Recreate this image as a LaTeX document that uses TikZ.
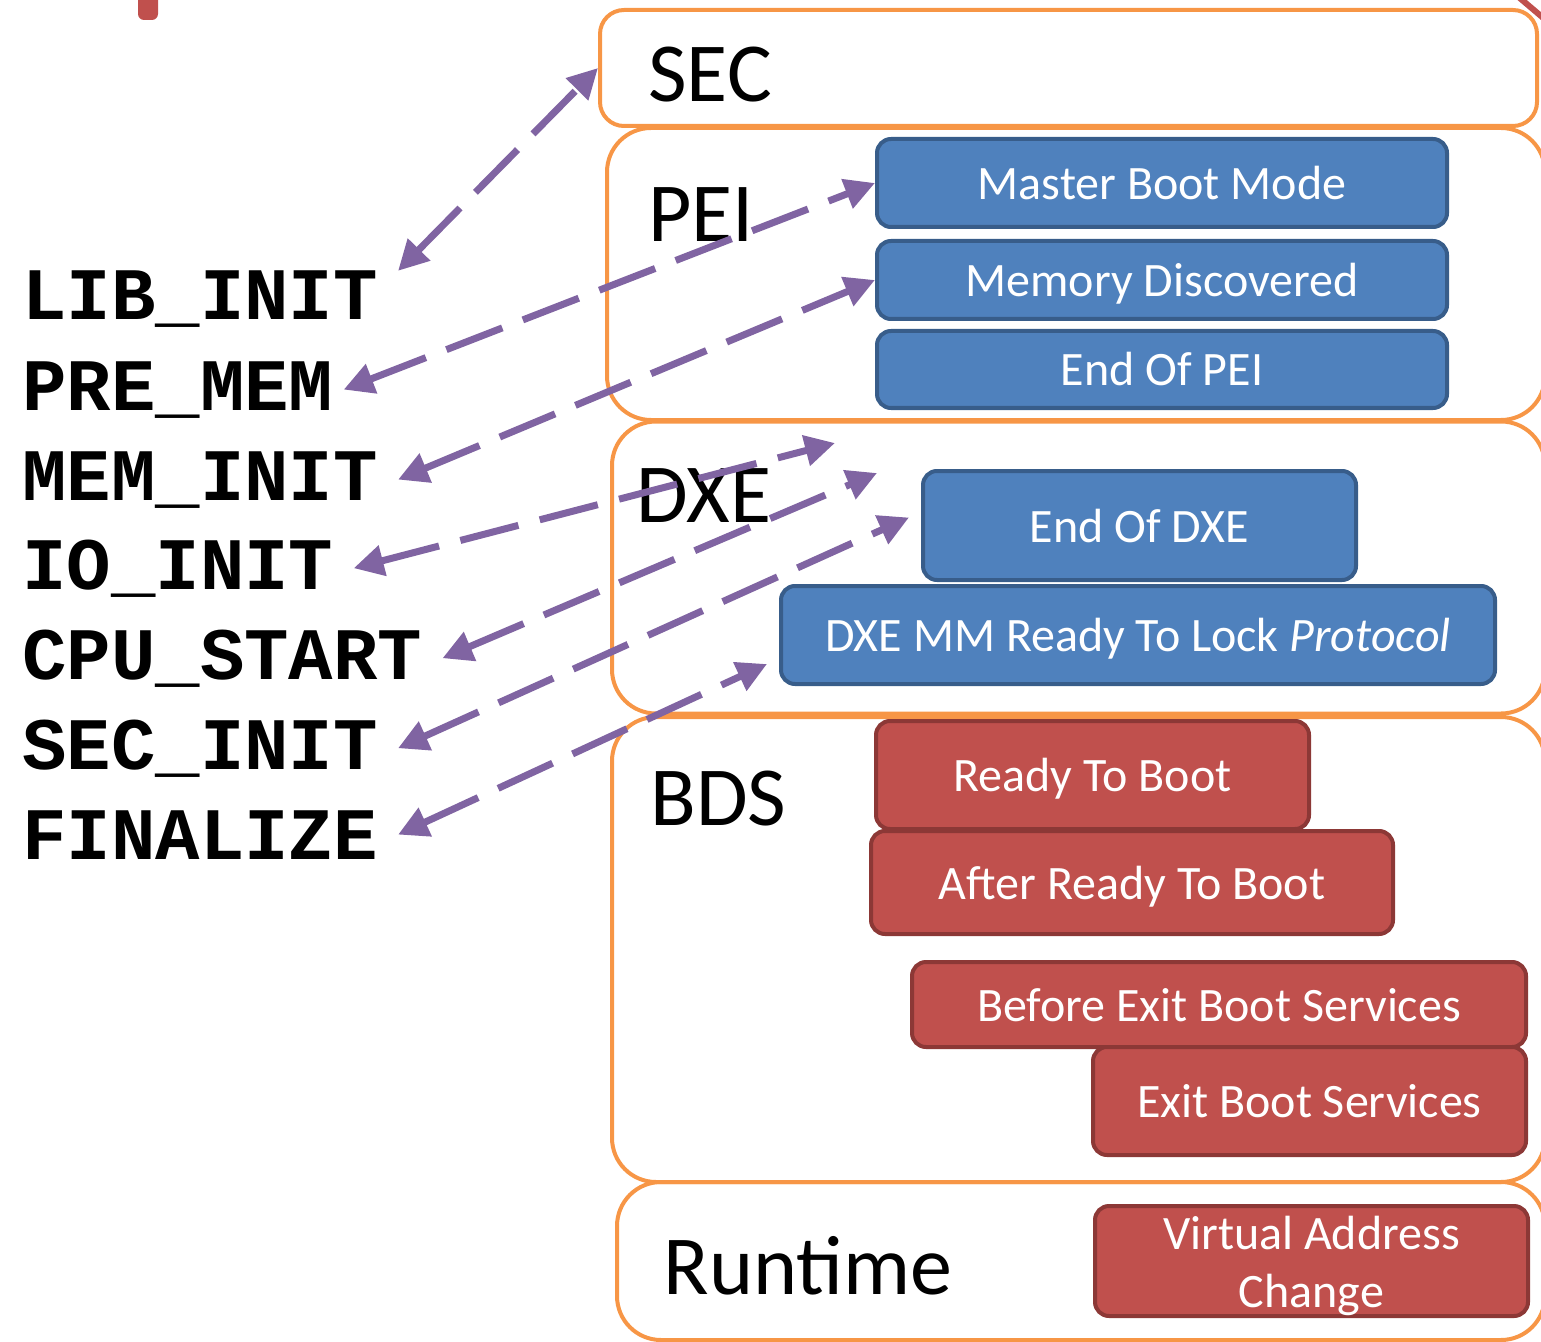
\documentclass[tikz,border=0pt]{standalone}
\usepackage{fontspec}
\setmainfont{Carlito}
\newfontfamily\codefont{Liberation Mono}
\usetikzlibrary{arrows.meta}

\definecolor{phaseorange}{HTML}{F79646}
\definecolor{eventblue}{HTML}{4F81BD}
\definecolor{eventblueline}{HTML}{385D8A}
\definecolor{eventred}{HTML}{C0504D}
\definecolor{eventredline}{HTML}{8C3836}
\definecolor{linkpurple}{HTML}{8064A2}

\tikzset{
  phasebox/.style={draw=phaseorange, line width=2pt, rounded corners=22pt, inner sep=0pt},
  phasename/.style={anchor=base west, inner sep=0pt, font=\fontsize{42}{42}\selectfont},
  bluebox/.style={draw=eventblueline, fill=eventblue, line width=2pt, rounded corners=7pt,
    text=white, font=\fontsize{24}{29}\selectfont, align=center,
    text height=17pt, text depth=0.5pt},
  redbox/.style={bluebox, draw=eventredline, fill=eventred},
  stage/.style={anchor=base west, inner xsep=10pt, inner ysep=0pt,
    font=\codefont\bfseries\fontsize{37}{37}\selectfont},
  link/.style={draw=linkpurple, line width=3.5pt, dash pattern=on 30pt off 11pt,
    {Triangle[length=15pt,width=15pt]}-{Triangle[length=15pt,width=15pt]}}
}

\begin{document}
\begin{tikzpicture}[x=0.5pt, y=-0.5pt, line join=round]
  \useasboundingbox (0,0) rectangle (1541,1342);
  \clip (0,0) rectangle (1541,1342);

  % cut-off bits at the top edge
  \fill[eventred, rounded corners=3pt] (138,-20) rectangle (158,20);
  \draw[eventred, line width=3pt] (1515,-6) -- (1548,22);

  % phases
  \node[phasebox, rounded corners=12pt, minimum width=468.5pt, minimum height=58pt] (sec) at (1068.5,68) {};
  \node[phasebox, minimum width=469pt, minimum height=146pt] (pei) at (1076,274) {};
  \node[phasebox, minimum width=466.5pt, minimum height=146pt] (dxe) at (1078.5,567.5) {};
  \node[phasebox, minimum width=466.5pt, minimum height=232.5pt] (bds) at (1078.5,949.5) {};
  \node[phasebox, minimum width=464pt, minimum height=79pt] (rt) at (1081,1261) {};

  \node[phasename] (secname) at (648,102) {SEC};
  \node[phasename] (peiname) at (648,242) {PEI};
  \node[phasename] (dxename) at (636,522) {DXE};
  \node[phasename] (bdsname) at (650,825) {BDS};
  \node[phasename] (rtname) at (663,1294) {Runtime};

  % events
  \node[bluebox, minimum width=285pt, minimum height=44pt] (mbm) at (1162,183) {Master Boot Mode};
  \node[bluebox, minimum width=285pt, minimum height=39pt] (md) at (1162,280) {Memory Discovered};
  \node[bluebox, minimum width=285pt, minimum height=38.5pt] (eopei) at (1162,369.5) {End Of PEI};
  \node[bluebox, minimum width=216.5pt, minimum height=54.5pt] (eodxe) at (1139.5,525.5) {End Of DXE};
  \node[bluebox, minimum width=357pt, minimum height=49pt] (rlock) at (1138,635) {DXE MM Ready To Lock \textit{Protocol}};

  \node[redbox, minimum width=216.5pt, minimum height=54pt] (rtb) at (1092.5,775) {Ready To Boot};
  \node[redbox, minimum width=261pt, minimum height=51.5pt] (artb) at (1132,882.5) {After Ready To Boot};
  \node[redbox, minimum width=307pt, minimum height=42.5pt] (bebs) at (1219,1004.5) {Before Exit Boot Services};
  \node[redbox, minimum width=216.5pt, minimum height=54pt] (ebs) at (1309.5,1101) {Exit Boot Services};
  \node[redbox, minimum width=216.5pt, minimum height=55pt, text height=46pt, text depth=0pt] (vac) at (1311.5,1261) {Virtual Address\\Change};

  % stages
  \node[stage] (libinit) at (2,320) {LIB\_INIT};
  \node[stage] (premem) at (2,410) {PRE\_MEM};
  \node[stage] (meminit) at (2,500) {MEM\_INIT};
  \node[stage] (ioinit) at (2,589) {IO\_INIT};
  \node[stage] (cpustart) at (2,679) {CPU\_START};
  \node[stage] (secinit) at (2,769) {SEC\_INIT};
  \node[stage] (finalize) at (2,859) {FINALIZE};

  \coordinate (ioend) at (835,443);
  \coordinate (cpuend) at (877,473);

  \draw[link] (libinit.north east) -- (sec.west);
  \draw[link] ([xshift=-5pt]premem.east) -- (mbm.west);
  \draw[link] (meminit.east) -- (md.west);
  \draw[link] (ioinit.east) -- (ioend);
  \draw[link] (cpustart.east) -- (cpuend);
  \draw[link] (secinit.east) -- ([shift={(-12,-8)}]eodxe.west);
  \draw[link] (finalize.east) -- ([shift={(-12,-22)}]rlock.south west);
\end{tikzpicture}
\end{document}
